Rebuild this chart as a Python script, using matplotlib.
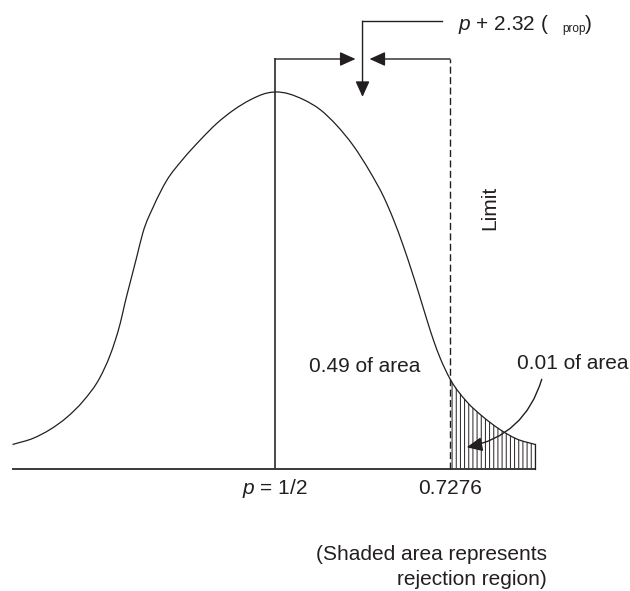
import numpy as np
import matplotlib.pyplot as plt
from matplotlib.path import Path
from matplotlib.patches import PathPatch

plt.rcParams['font.family'] = ['Liberation Sans', 'DejaVu Sans']
plt.rcParams['mathtext.fontset'] = 'custom'
plt.rcParams['mathtext.rm'] = 'Liberation Sans'
plt.rcParams['mathtext.it'] = 'Liberation Sans:italic'
plt.rcParams['hatch.linewidth'] = 0.7

# bell curve as drawn: distance from p in sigma units, height relative to peak
z_curve = [-3.48, -3.20, -2.98, -2.76, -2.54, -2.32, -2.19, -2.12, -2.05, -1.99,
           -1.92, -1.83, -1.75, -1.61, -1.44, -1.22, -0.99, -0.77, -0.55, -0.33,
           -0.11, 0.0, 0.375, 0.60, 0.82, 1.04, 1.26, 1.44, 1.57, 1.70,
           1.83, 1.92, 2.01, 2.10, 2.19, 2.32, 2.54, 2.76, 2.98, 3.20, 3.45]
h_curve = [0.065, 0.082, 0.105, 0.137, 0.181, 0.243, 0.300, 0.340, 0.388, 0.440,
           0.495, 0.565, 0.628, 0.697, 0.764, 0.822, 0.873, 0.917, 0.952, 0.979,
           0.997, 1.0, 0.980, 0.953, 0.911, 0.857, 0.788, 0.722, 0.662, 0.592,
           0.514, 0.457, 0.398, 0.342, 0.294, 0.239, 0.179, 0.138, 0.105, 0.080, 0.065]

z_crit = 2.32
mean_label = "$p$ = 1/2"
limit_label = "0.7276"
area_inside = 0.49
area_tail = 0.01

ink = '#231f20'
fs = 15


def smooth_path(zs, hs):
    # cubic bezier through the read points (hand drawn curve, not a formula)
    m = np.gradient(hs, zs)
    verts = [(zs[0], hs[0])]
    codes = [Path.MOVETO]
    for i in range(len(zs) - 1):
        d = (zs[i + 1] - zs[i]) / 3
        verts += [(zs[i] + d, hs[i] + d * m[i]),
                  (zs[i + 1] - d, hs[i + 1] - d * m[i + 1]),
                  (zs[i + 1], hs[i + 1])]
        codes += [Path.CURVE4] * 3
    return verts, codes


fig = plt.figure(figsize=(6.3, 5.91), dpi=100)
ax = fig.add_axes([0, 0, 1, 1])
ax.set_xlim(-3.646, 4.706)
ax.set_ylim(-0.3236, 1.244)
ax.axis('off')

z = np.array(z_curve)
h = np.array(h_curve)

# curve and baseline
verts, codes = smooth_path(z, h)
ax.add_patch(PathPatch(Path(verts, codes), facecolor='none', edgecolor=ink,
                       lw=0.9, zorder=3))
ax.plot([z[0], z[-1]], [0, 0], color='#3a3a3a', lw=1.4)

# rejection region
tail = z >= z_crit - 1e-9
tv, tc = smooth_path(z[tail], h[tail])
tv = [(z[tail][0], 0)] + tv + [(z[tail][-1], 0), (z[tail][0], 0)]
tc = [Path.MOVETO, Path.LINETO] + tc[1:] + [Path.LINETO, Path.CLOSEPOLY]
ax.add_patch(PathPatch(Path(tv, tc), facecolor='none', edgecolor=ink,
                       hatch='||||', lw=0))
ax.plot([z[-1], z[-1]], [0, h[-1]], color=ink, lw=0.9)

# bracket from p to the limit
top = 1.0875
mid = z_crit / 2
head = '-|>,head_length=0.95,head_width=0.43'
arrow_kw = dict(arrowstyle=head, color=ink, lw=1.0, shrinkA=0, shrinkB=0,
                mutation_scale=10)
ax.plot([0, 0], [0, top], color='#3a3a3a', lw=1.3)
ax.annotate('', xy=(mid - 0.093, top), xytext=(0, top), arrowprops=arrow_kw)
ax.plot([z_crit, z_crit], [0, top], color=ink, lw=1.0, ls=(0, (5, 2.5)))
ax.annotate('', xy=(mid + 0.093, top), xytext=(z_crit, top), arrowprops=arrow_kw)

# pointer from the formula
ax.plot([2.214, mid], [1.188, 1.188], color=ink, lw=1.0)
ax.annotate('', xy=(mid, 0.987), xytext=(mid, 1.188), arrowprops=arrow_kw)
ax.text(2.426, 1.164, "$p$ + 2.32 (", fontsize=fs, color=ink, va='baseline')
ax.text(3.805, 1.159, "prop", fontsize=8.5, color=ink, va='baseline')
ax.text(4.11, 1.164, ")", fontsize=fs, color=ink, va='baseline')

ax.text(2.85, 0.692, "Limit", fontsize=fs, color=ink, rotation=90,
        ha='center', va='center')

# area labels
ax.text(1.193, 0.2565, f"{area_inside:.2f} of area", fontsize=fs, color=ink,
        ha='center', va='baseline')
ax.text(3.95, 0.2653, f"{area_tail:.2f} of area", fontsize=fs, color=ink,
        ha='center', va='baseline')
ax.annotate('', xy=(2.541, 0.0576), xytext=(3.536, 0.238),
            arrowprops=dict(arrow_kw, connectionstyle='arc3,rad=-0.3'))

# axis labels
ax.text(0, -0.0663, mean_label, fontsize=fs, color=ink, ha='center', va='baseline')
ax.text(z_crit, -0.0663, limit_label, fontsize=fs, color=ink, ha='center',
        va='baseline')

ax.text(3.606, -0.2414, "(Shaded area represents", fontsize=fs, color=ink,
        ha='right', va='baseline')
ax.text(3.606, -0.3077, "rejection region)", fontsize=fs, color=ink,
        ha='right', va='baseline')

fig.savefig('out.png', dpi=100)
